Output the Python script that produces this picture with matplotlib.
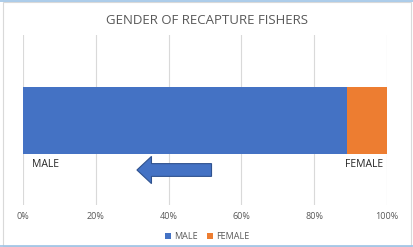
import matplotlib
matplotlib.use("Agg")
import matplotlib.pyplot as plt
from matplotlib.patches import FancyArrow, Rectangle
from matplotlib.ticker import PercentFormatter

categories = ["MALE", "FEMALE"]
shares = [0.89, 0.11]
colors = ["#4472C4", "#ED7D31"]
ticks = [0, 0.2, 0.4, 0.6, 0.8, 1.0]

plt.rcParams['font.family'] = ['Open Sans', 'DejaVu Sans']

fig = plt.figure(figsize=(4.14, 2.47), dpi=100)
ax = fig.add_axes([0.0556, 0.17, 0.879, 0.688])

left = 0
for cat, val, col in zip(categories, shares, colors):
    ax.barh(0.497, val, left=left, height=0.394, color=col, label=cat, zorder=3)
    left += val

ax.set_xlim(0, 1)
ax.set_ylim(0, 1)
ax.set_xticks(ticks)
ax.xaxis.set_major_formatter(PercentFormatter(1.0, decimals=0))
ax.set_yticks([])
ax.grid(axis='x', color='#D9D9D9', linewidth=0.8, zorder=0)
for s in ax.spines.values():
    s.set_visible(False)
ax.tick_params(axis='x', length=0, labelsize=6.5, labelcolor='#595959', pad=5)

ax.text(0.025, 0.24, "MALE", fontsize=7.5, color='#262626', va='center',
        transform=ax.transAxes)
ax.text(0.99, 0.24, "FEMALE", fontsize=7.5, color='#262626', ha='right', va='center',
        transform=ax.transAxes)

arrow = FancyArrow(0.518, 0.206, -0.205, 0, width=0.075, head_width=0.16,
                   head_length=0.04, length_includes_head=True,
                   facecolor='#4472C4', edgecolor='#2F528F', linewidth=0.8,
                   transform=ax.transAxes, zorder=4)
ax.add_patch(arrow)

fig.text(0.5, 0.915, "GENDER OF RECAPTURE FISHERS", ha='center', va='center',
         fontsize=9.5, color='#595959')

leg = fig.legend(loc='center', bbox_to_anchor=(0.5, 0.042), ncol=2, frameon=False,
                 fontsize=6.5, handlelength=0.7, handleheight=0.7, handletextpad=0.3,
                 columnspacing=1.0, labelcolor='#595959')

fig.add_artist(Rectangle((0.008, 0.006), 0.984, 0.985, transform=fig.transFigure,
                         fill=False, edgecolor='#D9D9D9', linewidth=0.8))
fig.add_artist(plt.Line2D([0, 1], [0.994, 0.994], transform=fig.transFigure,
                          color='#9DC3E6', linewidth=1.2))
fig.add_artist(plt.Line2D([0, 1], [0.004, 0.004], transform=fig.transFigure,
                          color='#9DC3E6', linewidth=1.2))

fig.savefig("out.png", dpi=100)
